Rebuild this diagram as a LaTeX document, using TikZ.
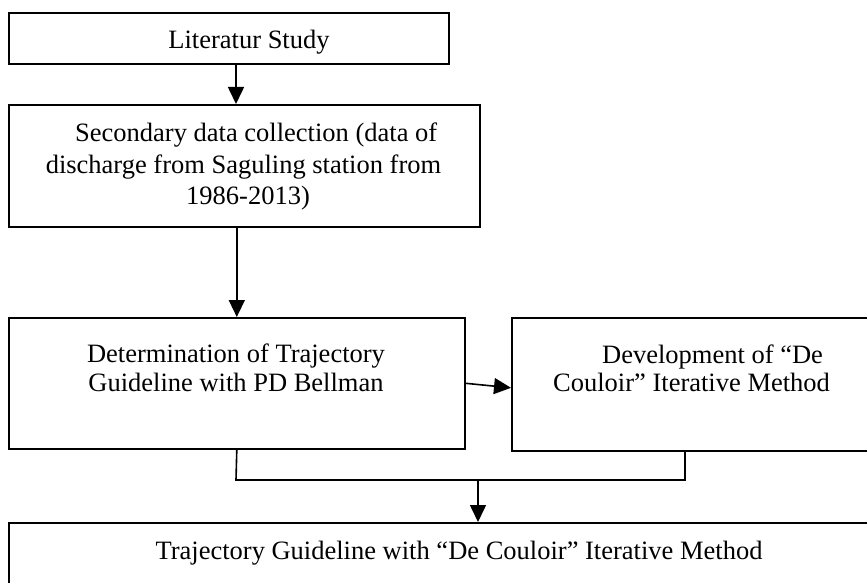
\documentclass[tikz,border=0pt]{standalone}
\usepackage{fontspec}
\setmainfont{Liberation Serif}
\usetikzlibrary{arrows.meta,calc}
\tikzset{
  box/.style={draw, line width=1.6pt, rectangle, inner sep=0pt, anchor=north west},
  txt/.style={font=\fontsize{26.5}{30}\selectfont, inner sep=0pt},
  ln/.style={line width=1.6pt},
  arr/.style={line width=1.6pt, -{Triangle[width=16pt,length=17pt]}}
}
\begin{document}
\begin{tikzpicture}[x=1pt,y=-1pt]
\useasboundingbox (0,0) rectangle (867,583);
\clip (0,0) rectangle (867,583);
% boxes
\node[box, minimum width=440pt, minimum height=51pt] (b1) at (8,12) {};
\node[box, minimum width=471pt, minimum height=122pt] (b2) at (8,104) {};
\node[box, minimum width=456pt, minimum height=131pt] (b3) at (8,317) {};
\node[box, minimum width=370pt, minimum height=133pt] (b4) at (511,317) {};
\node[box, minimum width=900pt, minimum height=100pt] (b5) at (8,522) {};
% texts
\node[txt, anchor=base] (t1) at (249,49) {Literatur Study};
\node[txt, anchor=base west] (t2a) at (75,142) {Secondary data collection (data of};
\node[txt, anchor=base] (t2b) at (243.5,173) {discharge from Saguling station from};
\node[txt, anchor=base] (t2c) at (248,204) {1986-2013)};
\node[txt, anchor=base] (t3a) at (236,362) {Determination of Trajectory};
\node[txt, anchor=base] (t3b) at (236,391) {Guideline with PD Bellman};
\node[txt, anchor=base west] (t4a) at (602,363) {Development of “De};
\node[txt, anchor=base west] (t4b) at (553,391) {Couloir” Iterative Method};
\node[txt, anchor=base] (t5) at (459,559) {Trajectory Guideline with “De Couloir” Iterative Method};
% connectors
\coordinate (a1) at (236,0);
\draw[arr] (b1.south -| a1) -- (b2.north -| a1);
\draw[arr] (b2.south -| b3.north) -- (b3.north);
\draw[arr] (b3.east) -- ($(b4.west)+(0,3.5)$);
\coordinate (jl) at (236,480);
\coordinate (jr) at (685,480);
\coordinate (jm) at (478,480);
\draw[ln] (b3.south) -- (jl) -- (jr) -- (jr |- b4.south);
\draw[arr] (jm) -- (jm |- b5.north);
\end{tikzpicture}
\end{document}
